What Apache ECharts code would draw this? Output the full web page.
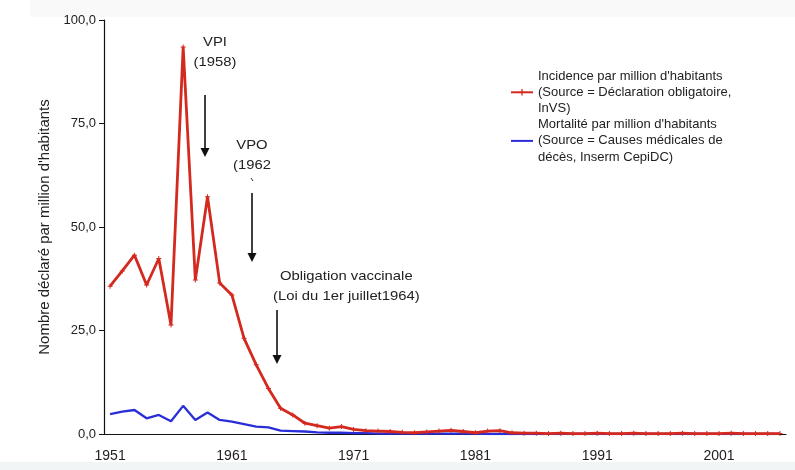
<!DOCTYPE html>
<html>
<head>
<meta charset="utf-8">
<script src="https://cdn.jsdelivr.net/npm/echarts@6/dist/echarts.min.js"></script>
<style>
  html, body { margin: 0; padding: 0; background: #fff; }
  #chart { width: 795px; height: 470px; }
</style>
</head>
<body>
<div id="chart"></div>
<script>
// années 1951 -> 2006
const years = [];
for (let y = 1951; y <= 2006; y++) years.push(String(y));

const incidence = [
  35.7, 39.4, 43.2, 36.0, 42.4, 26.3, 93.5, 37.2, 57.3, 36.5,
  33.6, 23.1, 16.7, 11.0, 6.2, 4.6, 2.6, 2.0, 1.4, 1.8,
  1.1, 0.8, 0.7, 0.6, 0.4, 0.3, 0.5, 0.7, 0.9, 0.6,
  0.3, 0.7, 0.8, 0.3, 0.2, 0.2, 0.1, 0.2, 0.1, 0.1,
  0.2, 0.1, 0.1, 0.2, 0.1, 0.1, 0.1, 0.2, 0.1, 0.1,
  0.1, 0.2, 0.1, 0.1, 0.1, 0.1
];
const mortalite = [
  4.8, 5.4, 5.8, 3.8, 4.6, 3.1, 6.8, 3.4, 5.2, 3.4,
  3.0, 2.4, 1.8, 1.6, 0.8, 0.7, 0.6, 0.4, 0.3, 0.3,
  0.2, 0.2, 0.1, 0.1, 0.1, 0.1, 0.1, 0.1, 0.1, 0.1,
  0.1, 0.0, 0.0, 0.0, 0.0, 0.0, 0.0, 0.0, 0.0, 0.0,
  0.0, 0.0, 0.0, 0.0, 0.0, 0.0, 0.0, 0.0, 0.0, 0.0,
  0.0, 0.0, 0.0, 0.0, 0.0, 0.0
];
const yTicks = [0, 25, 50, 75, 100];

const nomIncidence = "Incidence par million d'habitants\n(Source = Déclaration obligatoire,\nInVS)";
const nomMortalite = "Mortalité par million d'habitants\n(Source = Causes médicales de\ndécès, Inserm CepiDC)";

const font = "'Liberation Sans', Arial, sans-serif";
const red = "#d4291f";
const blue = "#2a2ed6";

// petite flèche verticale vers le bas
const arrow = (x, y1, y2) => [
  { type: "line", shape: { x1: x, y1: y1, x2: x, y2: y2 - 6 }, style: { stroke: "#111", lineWidth: 1.6 } },
  { type: "polygon", shape: { points: [[x - 4.5, y2 - 9], [x + 4.5, y2 - 9], [x, y2]] }, style: { fill: "#111" } }
];
// le texte de l'original est un peu étiré en largeur
const label = (x, y, text, align) => ({
  type: "text", x: x, y: y, scaleX: 1.14,
  style: { text: text, fontFamily: font, fontSize: 13, fill: "#222", align: align || "center", verticalAlign: "middle" }
});

const chart = echarts.init(document.getElementById("chart"));
chart.setOption({
  animation: false,
  backgroundColor: "#fff",
  textStyle: { fontFamily: font },
  grid: { left: 104, right: 9, top: 20, bottom: 36 },
  legend: {
    orient: "vertical",
    left: 505,
    top: 47,
    itemWidth: 22,
    itemHeight: 8,
    itemGap: -32,
    data: [
      { name: nomIncidence },
      { name: nomMortalite, itemStyle: { opacity: 0 } }
    ],
    textStyle: { fontSize: 13, color: "#222", lineHeight: 16.2, padding: [32, 0, 0, 0] }
  },
  xAxis: {
    type: "category",
    data: years,
    boundaryGap: true,
    axisLine: { lineStyle: { color: "#111", width: 1.2 } },
    axisTick: { interval: 0, length: 5, lineStyle: { color: "#111" } },
    axisLabel: { interval: 9, color: "#222", fontSize: 14, margin: 15 }
  },
  yAxis: {
    type: "value",
    min: yTicks[0],
    max: yTicks[yTicks.length - 1],
    interval: 25,
    name: "Nombre déclaré par million d'habitants",
    nameLocation: "middle",
    nameGap: 50,
    nameTextStyle: { fontSize: 15, color: "#222", width: 262, overflow: "truncate", ellipsis: "" },
    axisLine: { show: true, lineStyle: { color: "#111", width: 1.2 } },
    axisTick: { show: true, length: 5, lineStyle: { color: "#111" } },
    splitLine: { show: false },
    axisLabel: {
      color: "#222", fontSize: 13, margin: 8,
      formatter: v => v.toFixed(1).replace(".", ",")
    }
  },
  series: [
    {
      name: nomIncidence,
      type: "line",
      data: incidence,
      color: red,
      lineStyle: { width: 2.8, color: red },
      symbol: "path://M0,2h5v1h-5z M2,0h1v5h-1z",
      symbolSize: 5,
      itemStyle: { color: red },
      z: 3
    },
    {
      name: nomMortalite,
      type: "line",
      data: mortalite,
      color: blue,
      lineStyle: { width: 2.3, color: blue },
      symbol: "none",
      z: 2
    }
  ],
  graphic: [
    { type: "rect", shape: { x: 30, y: 0, width: 765, height: 17 }, style: { fill: "#f9f9f9" }, z: -10 },
    { type: "rect", shape: { x: 0, y: 462, width: 795, height: 8 }, style: { fill: "#f1f5f5" }, z: -10 },
    label(215, 42, "VPI"),
    label(215, 62, "(1958)"),
    ...arrow(205, 95, 157),
    label(252, 145, "VPO"),
    label(252, 165, "(1962"),
    { type: "line", shape: { x1: 251, y1: 178, x2: 253, y2: 181 }, style: { stroke: "#333", lineWidth: 1 } },
    ...arrow(252, 193, 262),
    label(280, 276, "Obligation vaccinale", "left"),
    label(273, 296, "(Loi du 1er juillet1964)", "left"),
    ...arrow(277, 310, 364)
  ]
});
</script>
</body>
</html>
